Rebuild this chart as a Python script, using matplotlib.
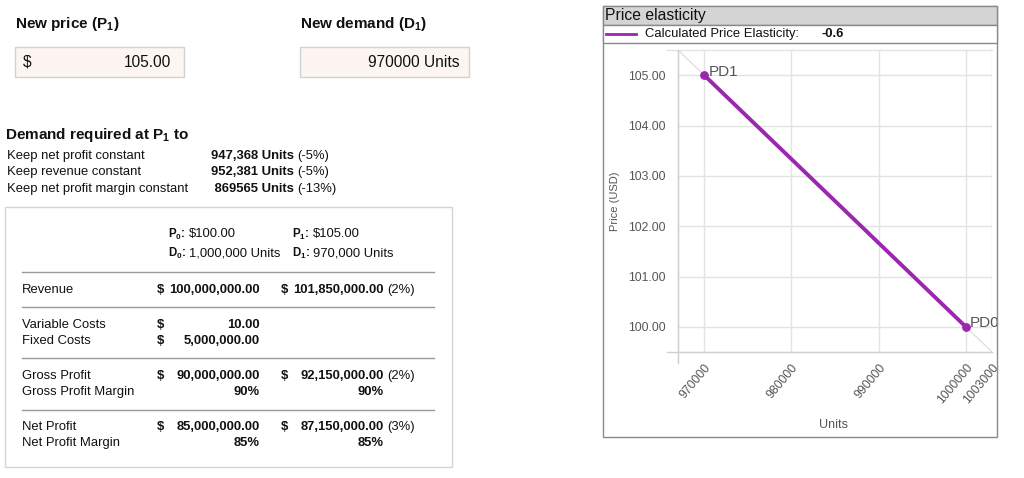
import matplotlib
matplotlib.use("Agg")
import matplotlib.pyplot as plt
from matplotlib.patches import Rectangle

plt.rcParams['font.family'] = ['Liberation Sans', 'DejaVu Sans']
plt.rcParams['mathtext.default'] = 'regular'

# inputs
old_price = 100.00
old_demand = 1000000
new_price = 105.00
new_demand = 970000

# demand required at P1
keep_labels = ['Keep net profit constant', 'Keep revenue constant', 'Keep net profit margin constant']
keep_units = ['947,368 Units', '952,381 Units', ' 869565 Units']
keep_change = ['(-5%)', '(-5%)', '(-13%)']

# comparison table
row_labels = ['Revenue', 'Variable Costs', 'Fixed Costs', 'Gross Profit',
              'Gross Profit Margin', 'Net Profit', 'Net Profit Margin']
p0_values = ['100,000,000.00', '10.00', '5,000,000.00', '90,000,000.00', '90%', '85,000,000.00', '85%']
p0_dollar = [True, True, True, True, False, True, False]
p1_values = ['101,850,000.00', '', '', '92,150,000.00', '90%', '87,150,000.00', '85%']
p1_dollar = [True, False, False, True, False, True, False]
p1_change = ['(2%)', '', '', '(2%)', '', '(3%)', '']

# chart
units = [1000000, 970000]
prices = [100.00, 105.00]
point_names = ['PD0', 'PD1']
elasticity = -0.6
x_ticks = [970000, 980000, 990000, 1000000, 1003000]
y_ticks = [100, 101, 102, 103, 104, 105]
x_range = (967000, 1003000)
y_range = (99.5, 105.5)

purple = '#9b27af'
grid_c = '#e3e3e3'
txt = '#111111'
fs = 9.4

fig = plt.figure(figsize=(10.24, 4.78), dpi=100)
bg = fig.add_axes([0, 0, 1, 1])
bg.set_xlim(0, 1024)
bg.set_ylim(478, 0)
bg.axis('off')


def text_after(t, y, s, **kw):
    # place s just right of text artist t
    fig.canvas.draw()
    bb = t.get_window_extent()
    xe = bg.transData.inverted().transform((bb.x1, bb.y0))[0]
    return bg.text(xe + 3, y, s, **kw)


# ---- inputs ----
bg.text(15, 24, 'New price (P$_1$)', fontsize=11, fontweight='bold', va='center', color=txt)
bg.text(300, 24, 'New demand (D$_1$)', fontsize=11, fontweight='bold', va='center', color=txt)
for x0 in (15, 300):
    bg.add_patch(Rectangle((x0, 47), 169, 30, facecolor='#fdf5f2', edgecolor='#d2d2d2', lw=1))
bg.text(23, 62, '$', fontsize=11.2, va='center', color=txt)
bg.text(171, 62, f'{new_price:.2f}', fontsize=11.2, va='center', ha='right', color=txt)
bg.text(459, 62, f'{new_demand} Units', fontsize=11.2, va='center', ha='right', color=txt)

# ---- demand required ----
bg.text(5, 135, 'Demand required at P$_1$ to', fontsize=11, fontweight='bold', va='center', color=txt)
for i, (lab, u, ch) in enumerate(zip(keep_labels, keep_units, keep_change)):
    y = 156 + i * 16.3
    bg.text(7, y, lab, fontsize=fs, va='center', color=txt)
    t = bg.text(211, y, u, fontsize=fs, fontweight='bold', va='center', color=txt)
    text_after(t, y, ch, fontsize=fs, va='center', color=txt)

# ---- table ----
bg.add_patch(Rectangle((5, 207), 447, 260, facecolor='white', edgecolor='#d5d5d5', lw=1))
col0_d, col0_r = 157, 260
col1_d, col1_r = 281, 384
heads = [(168, 234, 'P$_0$:', f'${old_price:.2f}'),
         (168, 253, 'D$_0$:', f'{old_demand:,} Units'),
         (292, 234, 'P$_1$:', f'${new_price:.2f}'),
         (292, 253, 'D$_1$:', f'{new_demand:,} Units')]
for hx, hy, lab, val in heads:
    bg.text(hx, hy, lab, fontsize=8.3, fontweight='bold', va='center', color=txt)
    bg.text(hx + 21, hy, val, fontsize=fs, va='center', color=txt)

row_y = [290, 325, 341, 376, 392, 427, 443]
for ys in (272, 307, 358, 410):
    bg.plot([22, 434], [ys, ys], color='#9a9a9a', lw=1)
for i, lab in enumerate(row_labels):
    y = row_y[i]
    bg.text(22, y, lab, fontsize=fs, va='center', color=txt)
    if p0_dollar[i]:
        bg.text(col0_d, y, '$', fontsize=fs, fontweight='bold', va='center', color=txt)
    bg.text(col0_r, y, p0_values[i], fontsize=fs, fontweight='bold', va='center', ha='right', color=txt)
    if p1_dollar[i]:
        bg.text(col1_d, y, '$', fontsize=fs, fontweight='bold', va='center', color=txt)
    if p1_values[i]:
        bg.text(col1_r, y, p1_values[i], fontsize=fs, fontweight='bold', va='center', ha='right', color=txt)
    if p1_change[i]:
        bg.text(col1_r + 3, y, p1_change[i], fontsize=fs, va='center', color=txt)

# ---- chart panel ----
panel = Rectangle((603, 6), 394, 431, facecolor='white', edgecolor='#8a8a8a', lw=1)
bg.add_patch(panel)
bg.add_patch(Rectangle((603, 6), 394, 19, facecolor='#d4d4d4', edgecolor='#8a8a8a', lw=1))
bg.add_patch(Rectangle((603, 25), 394, 18, facecolor='white', edgecolor='#8a8a8a', lw=1))
bg.text(605, 15.5, 'Price elasticity', fontsize=11.3, va='center', color=txt)
bg.plot([606, 636], [34, 34], color=purple, lw=2)
bg.text(645, 34, 'Calculated Price Elasticity:', fontsize=9.4, va='center', color=txt)
bg.text(821, 34, f'{elasticity}', fontsize=9.4, fontweight='bold', va='center', color=txt)
bg.text(615, 201, 'Price (USD)', fontsize=8, rotation=90, va='center', ha='center', color='#555555')
bg.text(834, 425, 'Units', fontsize=9, va='center', ha='center', color='#555555')

ax = fig.add_axes([678 / 1024, (478 - 352) / 478, (992 - 678) / 1024, (352 - 50) / 478])
ax.set_xlim(*x_range)
ax.set_ylim(*y_range)
ax.patch.set_alpha(0)

# faint extension of the demand line across the full range
slope = (prices[1] - prices[0]) / (units[1] - units[0])
ext_y = [prices[0] + slope * (x - units[0]) for x in x_range]
ax.plot(x_range, ext_y, color='#dadada', lw=0.8, zorder=2)
ax.plot(units, prices, color=purple, lw=2.8, zorder=3, solid_capstyle='round')
ax.scatter(units, prices, s=28, color=purple, zorder=4)
for u, p, name in zip(units, prices, point_names):
    t = ax.annotate(name, (u, p), xytext=(3, 2.5), textcoords='offset points',
                    fontsize=11, color='#555555', va='center', ha='left')
    t.set_clip_path(panel)

ax.set_xticks(x_ticks)
ax.set_xticklabels([str(v) for v in x_ticks], rotation=50, ha='right', rotation_mode='anchor',
                   fontsize=8.8, color='#555555')
ax.set_yticks(y_ticks)
ax.set_yticklabels([f'{v:.2f}' for v in y_ticks], fontsize=8.8, color='#555555')
ax.tick_params(axis='both', length=0, pad=9)
ax.tick_params(axis='x', pad=7)
ax.grid(True, color=grid_c, lw=1)
ax.set_axisbelow(True)
for s in ('top', 'right'):
    ax.spines[s].set_visible(False)
ax.spines['left'].set_color('#cfcfcf')
ax.spines['bottom'].set_color('#cfcfcf')
ax.axhline(y_range[1], xmin=-0.035, xmax=1, color=grid_c, lw=1, clip_on=False)
ax.axhline(y_range[0], xmin=-0.035, xmax=1, color='#cfcfcf', lw=1, clip_on=False)
ax.axvline(x_range[0], ymin=-0.036, ymax=1, color='#cfcfcf', lw=1, clip_on=False)

fig.savefig('out.png', dpi=100)
